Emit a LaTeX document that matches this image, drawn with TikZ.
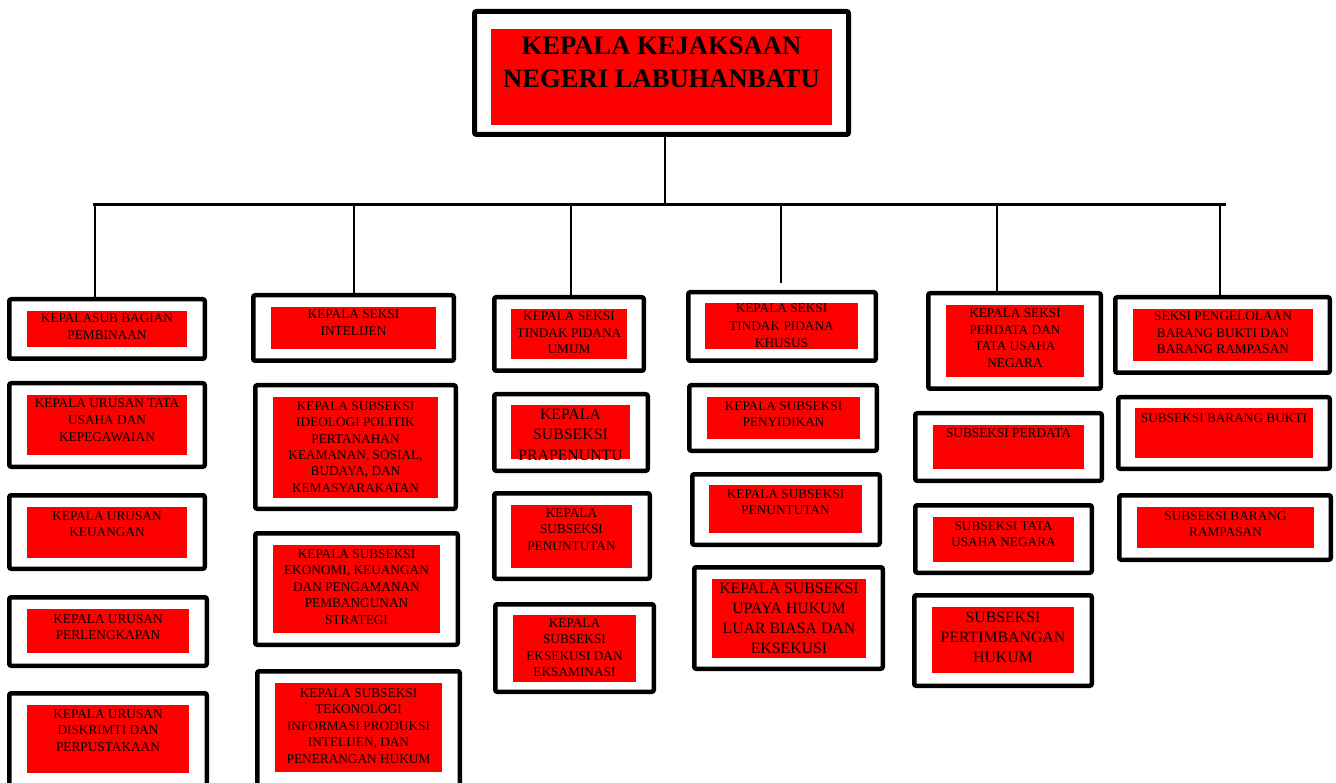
\documentclass[tikz,border=0pt]{standalone}
\usepackage{fontspec}
\setmainfont{Liberation Serif}
\usetikzlibrary{fit,calc}
\definecolor{boxred}{RGB}{255,0,0}
\tikzset{
  outerbox/.style={draw=black, line width=4.5pt, rounded corners=2pt, fill=white, inner sep=0pt},
  redbox/.style={fill=boxred, draw=none, inner sep=0pt},
  lbl/.style={inner sep=0pt, anchor=base, text=black},
  link/.style={draw=black, line width=1.8pt},
  barline/.style={draw=black, line width=3pt},
}
\newcommand{\txtS}{\fontsize{13.3}{16.5}\selectfont}
\newcommand{\txtSk}{\fontsize{13.3}{17.5}\selectfont}
\newcommand{\txtL}{\fontsize{15.8}{20}\selectfont}
\newcommand{\txtT}{\fontsize{26.6}{33}\selectfont\bfseries}
% #1 name, #2 outer top-left, #3 outer bottom-right, #4 red top-left, #5 red bottom-right,
% #6 first baseline y, #7 font, #8 text
\newcommand{\orgbox}[8]{%
  \node[outerbox, fit={($(#2)+(2.25,2.25)$) ($(#3)-(2.25,2.25)$)}] (#1) {};
  \node[redbox, fit={(#4) (#5)}] (#1-r) {};
  \node[lbl] (#1-t) at (#1-r.north |- 0,#6) {\parbox[t]{300pt}{#7\centering #8\par}};
}
\begin{document}
\begin{tikzpicture}[x=1pt,y=-1pt]
\useasboundingbox (0,0) rectangle (1336,783);
\clip (0,0) rectangle (1336,783);
\fill[white] (0,0) rectangle (1336,783);

% connectors
\coordinate (jm) at (665,205);
\coordinate (barL) at (93,205);
\coordinate (barR) at (1226,205);
\coordinate (j1) at (95,205);
\coordinate (j2) at (354,205);
\coordinate (j3) at (571,205);
\coordinate (j4) at (781,205);
\coordinate (j4end) at (781,283);
\coordinate (j5) at (997,205);
\coordinate (j6) at (1220,205);

% main box
\node[outerbox, line width=5pt, fit={(474.5,11.5) (848.5,134.5)}] (main) {};
\node[redbox, fit={(491,29) (832,125)}] (main-r) {};
\node[lbl] (main-t) at (main-r.north |- 0,55) {\parbox[t]{400pt}{\txtT\centering KEPALA KEJAKSAAN\\NEGERI LABUHANBATU\par}};

% column 1
\orgbox{a1}{7,297}{207,361}{27,311}{187,347}{323}{\txtS}{KEPALASUB BAGIAN\\PEMBINAAN}
\orgbox{a2}{7,381}{207,469}{27,395}{187,455}{408}{\txtS}{KEPALA URUSAN TATA\\USAHA DAN\\KEPEGAWAIAN}
\orgbox{a3}{7,493}{207,571}{27,507}{187,558}{520}{\txtS}{KEPALA URUSAN\\KEUANGAN}
\orgbox{a4}{7,595}{209,668}{27,609}{189,653}{623}{\txtS}{KEPALA URUSAN\\PERLENGKAPAN}
\orgbox{a5}{7,691}{209,800}{27,705}{189,773}{718}{\txtS}{KEPALA URUSAN\\DISKRIMTI DAN\\PERPUSTAKAAN}

% column 2
\orgbox{b1}{251,293}{456,363}{271,307}{436,349}{319}{\txtS}{KEPALA SEKSI\\INTELIJEN}
\orgbox{b2}{253,383}{458,511}{273,397}{438,498}{410}{\txtS}{KEPALA SUBSEKSI\\IDEOLOGI POLITIK\\PERTANAHAN\\KEAMANAN, SOSIAL,\\BUDAYA, DAN\\KEMASYARAKATAN}
\orgbox{b3}{253,531}{460,647}{273,545}{440,633}{558}{\txtS}{KEPALA SUBSEKSI\\EKONOMI, KEUANGAN\\DAN PENGAMANAN\\PEMBANGUNAN\\STRATEGI}
\orgbox{b4}{255,669}{462,800}{275,683}{442,772}{697}{\txtS}{KEPALA SUBSEKSI\\TEKONOLOGI\\INFORMASI PRODUKSI\\INTELIJEN, DAN\\PENERANGAN HUKUM}

% column 3
\orgbox{c1}{492,295}{646,373}{511,309}{627,359}{321}{\txtS}{KEPALA SEKSI\\TINDAK PIDANA\\UMUM}
\node[outerbox, fit={(494.25,394.25) (647.75,470.75)}] (c2) {};
\node[redbox, fit={(511,405) (630,459)}] (c2-r) {};
\begin{scope}
  \clip (511,405) rectangle (630,459);
  \node[lbl] (c2-t) at (c2-r.north |- 0,420) {\parbox[t]{300pt}{\txtL\centering KEPALA\\SUBSEKSI\\PRAPENUNTU\par}};
\end{scope}
\orgbox{c3}{492,491}{652,581}{511,505}{632,568}{517}{\txtS}{KEPALA\\SUBSEKSI\\PENUNTUTAN}
\orgbox{c4}{493,602}{656,694}{513,615}{636,682}{627}{\txtS}{KEPALA\\SUBSEKSI\\EKSEKUSI DAN\\EKSAMINASI}

% column 4
\orgbox{d1}{686,290}{878,363}{705,303}{858,349}{313}{\txtSk}{KEPALA SEKSI\\TINDAK PIDANA\\KHUSUS}
\orgbox{d2}{687,383}{879,453}{707,397}{860,439}{410}{\txtS}{KEPALA SUBSEKSI\\PENYIDIKAN}
\orgbox{d3}{690,472}{882,547}{709,485}{862,533}{498}{\txtS}{KEPALA SUBSEKSI\\PENUNTUTAN}
\orgbox{d4}{692,565}{885,671}{712,579}{866,658}{593}{\txtL}{KEPALA SUBSEKSI\\UPAYA HUKUM\\LUAR BIASA DAN\\EKSEKUSI}

% column 5
\orgbox{e1}{926,291}{1103,391}{946,305}{1084,377}{318}{\txtS}{KEPALA SEKSI\\PERDATA DAN\\TATA USAHA\\NEGARA}
\orgbox{e2}{913,411}{1104,483}{933,425}{1084,469}{438}{\txtS}{SUBSEKSI PERDATA}
\orgbox{e3}{913,503}{1094,575}{933,517}{1074,562}{530}{\txtS}{SUBSEKSI TATA\\USAHA NEGARA}
\orgbox{e4}{912,593}{1094,688}{932,607}{1074,673}{622}{\txtL}{SUBSEKSI\\PERTIMBANGAN\\HUKUM}

% column 6
\orgbox{f1}{1113,295}{1332,375}{1133,309}{1313,361}{321}{\txtS}{SEKSI PENGELOLAAN\\BARANG BUKTI DAN\\BARANG RAMPASAN}
\orgbox{f2}{1116,395}{1332,471}{1135,408}{1313,458}{422}{\txtS}{SUBSEKSI BARANG BUKTI}
\orgbox{f3}{1117,493}{1333,562}{1137,507}{1314,548}{520}{\txtS}{SUBSEKSI BARANG\\RAMPASAN}

% lines
\draw[link] (main.south -| jm) -- (jm);
\draw[barline] (barL) -- (barR);
\draw[link] (j1) -- (j1 |- a1.north);
\draw[link] (j2) -- (j2 |- b1.north);
\draw[link] (j3) -- (j3 |- c1.north);
\draw[link] (j4) -- (j4end);
\draw[link] (j5) -- (j5 |- e1.north);
\draw[link] (j6) -- (j6 |- f1.north);
\end{tikzpicture}
\end{document}
